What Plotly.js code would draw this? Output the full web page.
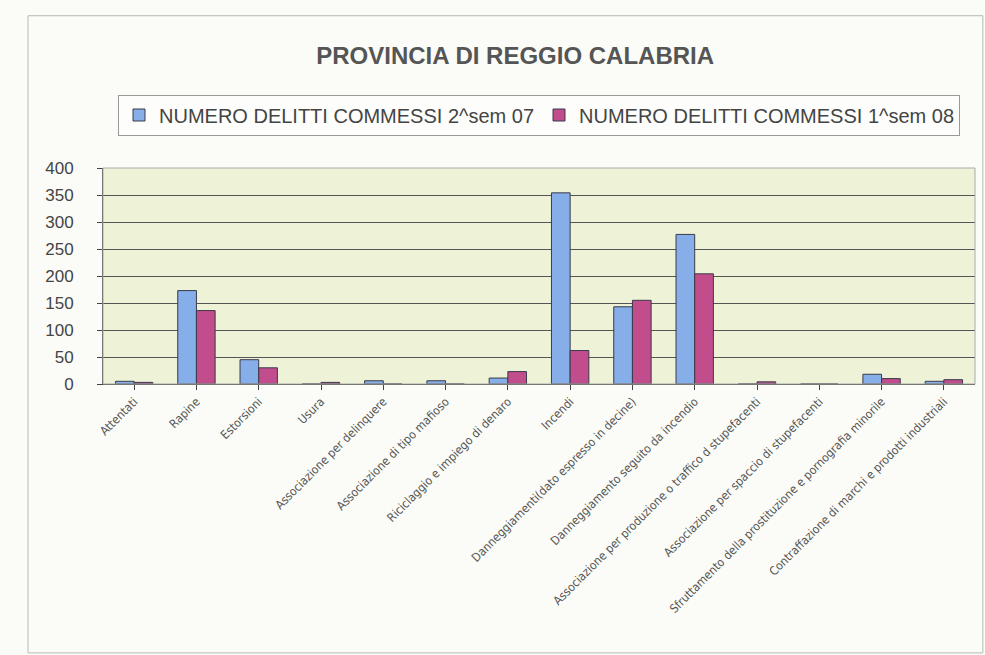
<!DOCTYPE html>
<html><head><meta charset="utf-8">
<script src="https://cdn.plot.ly/plotly-3.0.1.min.js"></script>
<style>html,body{margin:0;padding:0;background:#fbfcf7;}#chart{width:985px;height:655px;}</style>
</head><body><div id="chart"></div>
<script>
const categories = [
  "Attentati",
  "Rapine",
  "Estorsioni",
  "Usura",
  "Associazione per delinquere",
  "Associazione di tipo mafioso",
  "Riciclaggio e impiego di denaro",
  "Incendi",
  "Danneggiamenti(dato espresso in decine)",
  "Danneggiamento seguito da incendio",
  "Associazione per produzione o traffico d stupefacenti",
  "Associazione per spaccio di stupefacenti",
  "Sfruttamento della prostituzione e pornografia minorile",
  "Contraffazione di marchi e prodotti industriali"
];
const sem2_07 = [5, 173, 45, 0, 6, 6, 11, 354, 143, 277, 0, 0, 18, 5];
const sem1_08 = [3, 136, 30, 3, 0, 0, 23, 62, 155, 204, 4, 0, 10, 8];
const seriesNames = ["NUMERO DELITTI COMMESSI 2^sem 07", "NUMERO DELITTI COMMESSI 1^sem 08"];
const yTicks = [0, 50, 100, 150, 200, 250, 300, 350, 400];

const data = [
  {type:'bar', x:categories, y:sem2_07, name:seriesNames[0],
   marker:{color:'#86aee8', line:{color:'#3a3a4a', width:1}}},
  {type:'bar', x:categories, y:sem1_08, name:seriesNames[1],
   marker:{color:'#c24d8c', line:{color:'#3a3a4a', width:1}}}
];

const layout = {
  width:985, height:655,
  margin:{l:103, r:10, t:168, b:271},
  paper_bgcolor:'#fbfcf7',
  plot_bgcolor:'#eef3d8',
  barmode:'group', bargap:0.4, bargroupgap:0,
  title:{text:'PROVINCIA DI REGGIO CALABRIA', x:0.523, xanchor:'center', y:1-56/655, yanchor:'middle',
         font:{family:'Liberation Sans, Arial, sans-serif', size:24, color:'#555555', weight:'bold'}},
  showlegend:true,
  legend:{orientation:'h', x:0.5, xanchor:'center', y:1-115/655, yanchor:'middle', yref:'container',
          font:{family:'Liberation Sans, Arial, sans-serif', size:20, color:'#444444'},
          bgcolor:'#fdfefb', bordercolor:'#999999', borderwidth:1, itemwidth:30, traceorder:'normal'},
  xaxis:{type:'category', tickangle:-45, showline:true, linecolor:'#444444', linewidth:1,
         ticks:'outside', ticklen:5, tickcolor:'#444444',
         tickfont:{family:'DejaVu Sans Condensed, Liberation Sans Narrow, sans-serif', size:12, color:'#555555'},
         showgrid:false},
  yaxis:{range:[0,400], tickvals:yTicks, ticks:'outside', ticklen:5, tickcolor:'#444444',
         ticklabelstandoff:20,
         showline:true, linecolor:'#444444', linewidth:1,
         gridcolor:'#555555', gridwidth:1, zeroline:false,
         tickfont:{family:'Liberation Sans, Arial, sans-serif', size:17, color:'#444444'}},
  shapes:[
    {type:'rect', xref:'paper', yref:'paper', x0:-0.086, x1:1.009, y0:-1.245, y1:1.705,
     line:{color:'#b8b8b8', width:1}, fillcolor:'rgba(0,0,0,0)', layer:'below'},
    {type:'rect', xref:'paper', yref:'paper', x0:0, x1:1, y0:0, y1:1,
     line:{color:'#aaaaaa', width:1}, fillcolor:'rgba(0,0,0,0)'}
  ]
};

Plotly.newPlot('chart', data, layout, {displayModeBar:false});
</script></body></html>
